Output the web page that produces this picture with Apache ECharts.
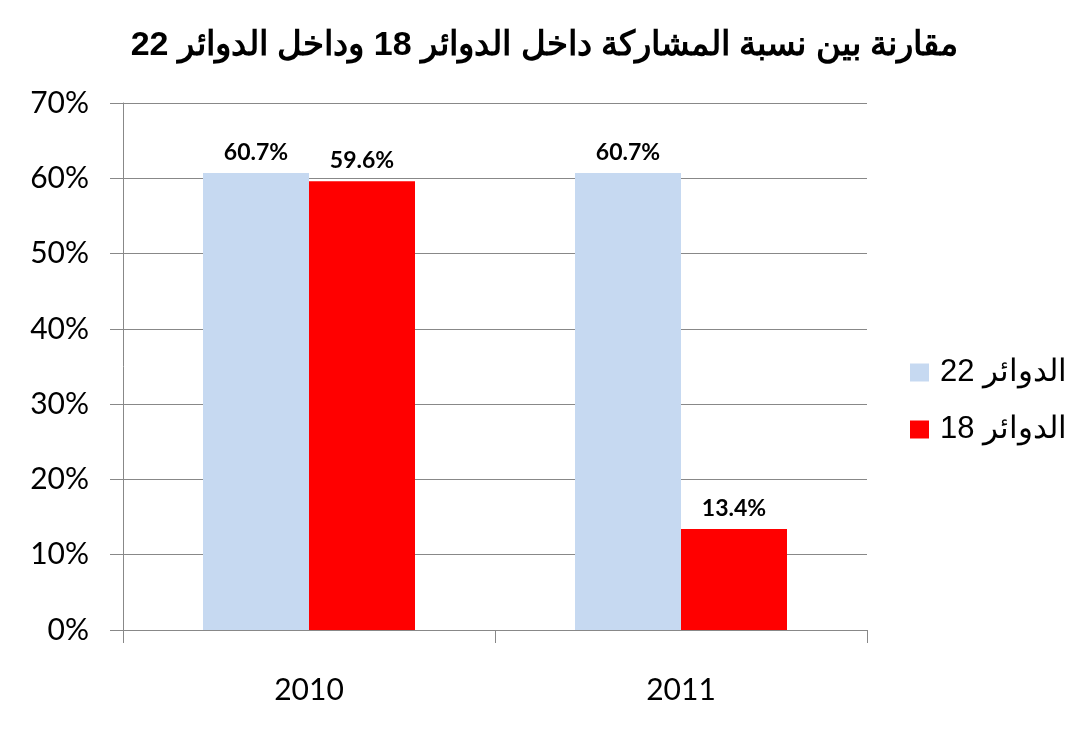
<!DOCTYPE html>
<html><head><meta charset="utf-8">
<script src="https://cdn.jsdelivr.net/npm/echarts@6/dist/echarts.min.js"></script>
<style>html,body{margin:0;padding:0;background:#fff}#c{width:1089px;height:735px}</style>
</head><body><div id="c"></div>
<script>
const categories = ['2010', '2011'];
const series22 = [60.7, 60.7];
const series18 = [59.6, 13.4];
const seriesNames = ['الدوائر 22', 'الدوائر 18'];
const yTicks = [0, 10, 20, 30, 40, 50, 60, 70];
const titleText = 'مقارنة بين نسبة المشاركة داخل الدوائر 18 وداخل الدوائر 22';

const chart = echarts.init(document.getElementById('c'));
const labelCfg = {
  show: true, position: 'top', distance: 9,
  formatter: p => p.value.toFixed(1) + '%',
  fontFamily: 'Lato', fontWeight: 'bold', fontSize: 23, color: '#000'
};
chart.setOption({
  animation: false,
  title: {
    text: titleText, left: 'center', top: 24,
    textStyle: { fontFamily: 'Liberation Sans', fontWeight: 'bold', fontSize: 34, color: '#000' }
  },
  legend: {
    orient: 'vertical', left: 905, top: 352, itemWidth: 19, itemHeight: 18, itemGap: 26,
    icon: 'rect',
    textStyle: { fontFamily: 'Liberation Sans', fontSize: 31, color: '#000', padding: [0, 0, 0, 6] },
    data: seriesNames
  },
  grid: { left: 123, right: 222, top: 103, bottom: 105, containLabel: false },
  xAxis: {
    type: 'category', data: categories,
    axisLine: { lineStyle: { color: '#888', width: 1 } },
    axisTick: { show: true, length: 13, lineStyle: { color: '#888' } },
    axisLabel: { margin: 45, fontFamily: 'Lato', fontSize: 30, color: '#000' }
  },
  yAxis: {
    type: 'value', min: 0, max: 70, interval: 10,
    axisLine: { show: true, lineStyle: { color: '#888', width: 1 } },
    axisTick: { show: true, length: 13, lineStyle: { color: '#888' } },
    splitLine: { lineStyle: { color: '#888', width: 1 } },
    axisLabel: { margin: 34, fontFamily: 'Lato', fontSize: 30, color: '#000', formatter: v => yTicks.includes(v) ? v + '%' : '' }
  },
  series: [
    { name: seriesNames[0], type: 'bar', data: series22, barWidth: 106, barGap: '0%',
      itemStyle: { color: '#c6d9f1' }, label: labelCfg },
    { name: seriesNames[1], type: 'bar', data: series18, barWidth: 106, barGap: '0%',
      itemStyle: { color: '#ff0000' }, label: labelCfg }
  ]
});
</script></body></html>
